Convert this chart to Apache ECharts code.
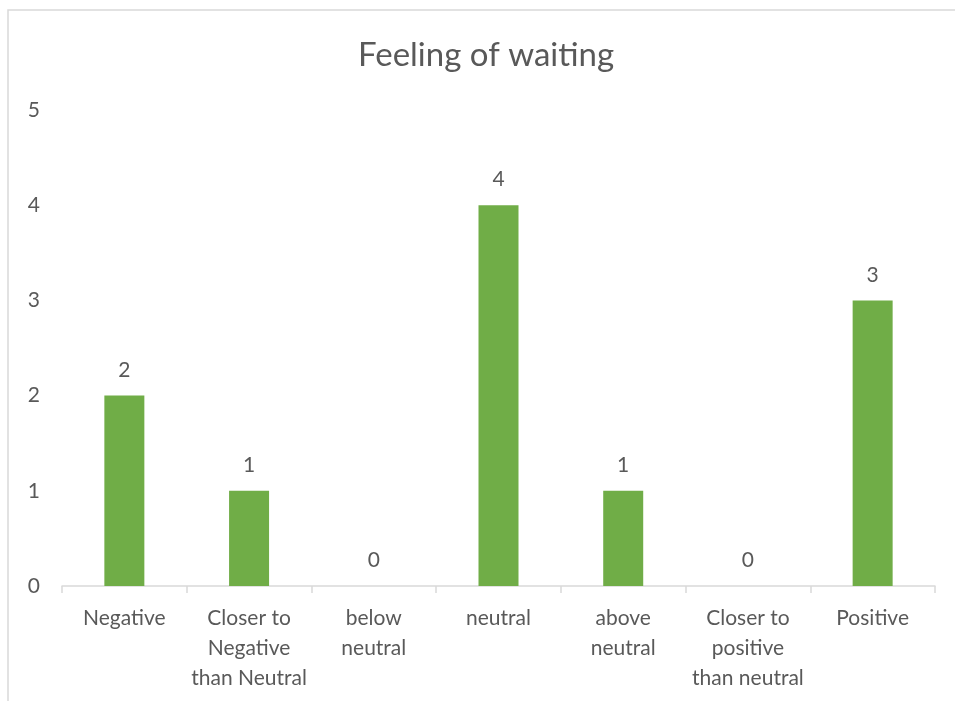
<!DOCTYPE html>
<html>
<head>
<meta charset="utf-8">
<script src="https://cdn.jsdelivr.net/npm/echarts@6/dist/echarts.min.js"></script>
<style>
  html, body { margin: 0; padding: 0; background: #fff; }
  #chart { width: 955px; height: 701px; }
</style>
</head>
<body>
<div id="chart"></div>
<script>
// Survey responses: how respondents felt about waiting
const categories = [
  'Negative',
  'Closer to\nNegative\nthan Neutral',
  'below\nneutral',
  'neutral',
  'above\nneutral',
  'Closer to\npositive\nthan neutral',
  'Positive'
];
const counts = [2, 1, 0, 4, 1, 0, 3];
const yTicks = [0, 1, 2, 3, 4, 5];

const textColor = '#595959';
const lineColor = '#d9d9d9';
const fontFamily = 'Lato, "Open Sans", sans-serif';

const chart = echarts.init(document.getElementById('chart'));
chart.setOption({
  animation: false,
  backgroundColor: '#ffffff',
  graphic: [
    {
      // chart frame
      type: 'rect',
      shape: { x: 8, y: 10, width: 1000, height: 1000 },
      style: { fill: 'none', stroke: lineColor, lineWidth: 1.5 },
      silent: true
    },
    {
      type: 'text',
      left: 488 - 130,
      top: 39,
      style: {
        text: 'Feeling of waiting',
        fill: textColor,
        font: 'normal 33px ' + fontFamily,
        width: 260,
        align: 'center'
      },
      silent: true
    }
  ],
  grid: { left: 62, right: 20, top: 110, bottom: 115, containLabel: false },
  xAxis: {
    type: 'category',
    data: categories,
    boundaryGap: true,
    axisLine: { lineStyle: { color: lineColor, width: 1.5 } },
    axisTick: { show: true, alignWithLabel: false, length: 7, lineStyle: { color: lineColor, width: 1.5 } },
    axisLabel: {
      color: textColor, fontSize: 21, fontFamily: fontFamily,
      lineHeight: 30, margin: 17, interval: 0
    }
  },
  yAxis: {
    type: 'value',
    min: yTicks[0],
    max: yTicks[yTicks.length - 1],
    interval: 1,
    splitLine: { show: false },
    axisLine: { show: false },
    axisTick: { show: false },
    axisLabel: { color: textColor, fontSize: 21, fontFamily: fontFamily, margin: 22 }
  },
  series: [{
    type: 'bar',
    data: counts,
    barWidth: 40,
    itemStyle: { color: '#70ad47' },
    label: {
      show: true,
      position: 'top',
      distance: 15,
      color: textColor,
      fontSize: 21,
      fontFamily: fontFamily
    }
  }]
});
</script>
</body>
</html>
